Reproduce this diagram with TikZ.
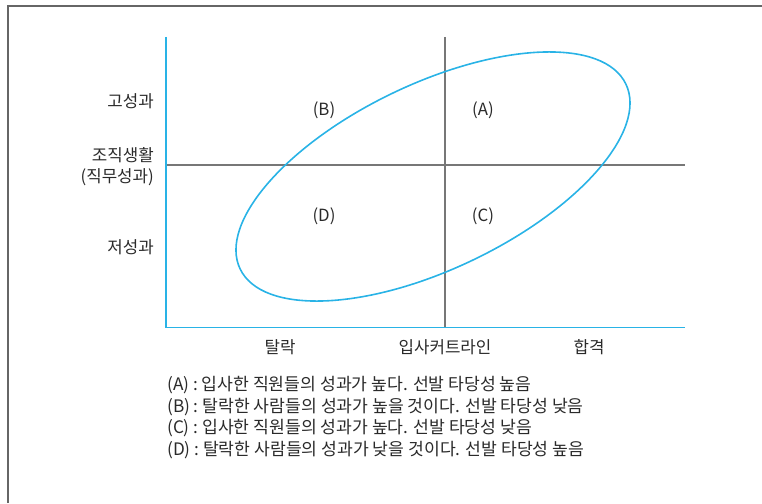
\documentclass[tikz,border=0pt]{standalone}
\usepackage{fontspec}
\setmainfont{Noto Sans CJK KR}
\definecolor{axblue}{HTML}{29B3E6}
\definecolor{lgray}{HTML}{777777}
\definecolor{txt}{HTML}{2A2A2A}
\definecolor{frame}{HTML}{666666}
\begin{document}
\begin{tikzpicture}[x=1pt,y=1pt,
  lbl/.style={font=\fontsize{16.8}{20}\selectfont, text=txt, inner sep=0pt},
  leg/.style={font=\fontsize{17.2}{20}\selectfont, text=txt, inner sep=0pt, anchor=west},
  axis/.style={draw=axblue, line width=1.8pt},
  guide/.style={draw=lgray, line width=1.1pt}]
\useasboundingbox (0,0) rectangle (762,503);
% frame
\draw[frame, line width=1.4pt] (8,0) -- (8,497) -- (762,497);
% coordinates
\coordinate (O) at (166,175.5);
\coordinate (Ytop) at (166,466);
\coordinate (Xend) at (685,175.5);
\coordinate (Hl) at (166,338);
\coordinate (Hr) at (685,338);
\coordinate (Vt) at (445,466);
\coordinate (Vb) at (445,175.5);
\coordinate (C) at (433,326.5);
% guides
\draw[guide] (Hl) -- (Hr);
\draw[guide] (Vt) -- (Vb);
% ellipse
\draw[axblue, line width=1.6pt, rotate around={25.6:(C)}] (C) ellipse [x radius=213.9, y radius=92.6];
% axes
\draw[axis] (Ytop) -- (O) -- (Xend);
% y labels
\node[lbl, anchor=east] (hi) at (154,402) {고성과};
\node[lbl, anchor=east] (org) at (154,348) {조직생활};
\node[lbl, anchor=east] (job) at (154,326) {(직무성과)};
\node[lbl, anchor=east] (lo) at (154,256) {저성과};
% quadrant labels
\node[lbl] (qB) at (324,392.5) {(B)};
\node[lbl] (qA) at (483,392.5) {(A)};
\node[lbl] (qD) at (324,287) {(D)};
\node[lbl] (qC) at (483,287) {(C)};
% x labels
\node[lbl] (x1) at (280,156) {탈락};
\node[lbl] (x2) at (445,156) {입사커트라인};
\node[lbl] (x3) at (589,156) {합격};
% legend
\node[leg] (lA) at (167,117.5) {(A) : 입사한 직원들의 성과가 높다. 선발 타당성 높음};
\node[leg] (lB) at (167,96) {(B) : 탈락한 사람들의 성과가 높을 것이다. 선발 타당성 낮음};
\node[leg] (lC) at (167,75) {(C) : 입사한 직원들의 성과가 높다. 선발 타당성 낮음};
\node[leg] (lD) at (167,53) {(D) : 탈락한 사람들의 성과가 낮을 것이다. 선발 타당성 높음};
\end{tikzpicture}
\end{document}
